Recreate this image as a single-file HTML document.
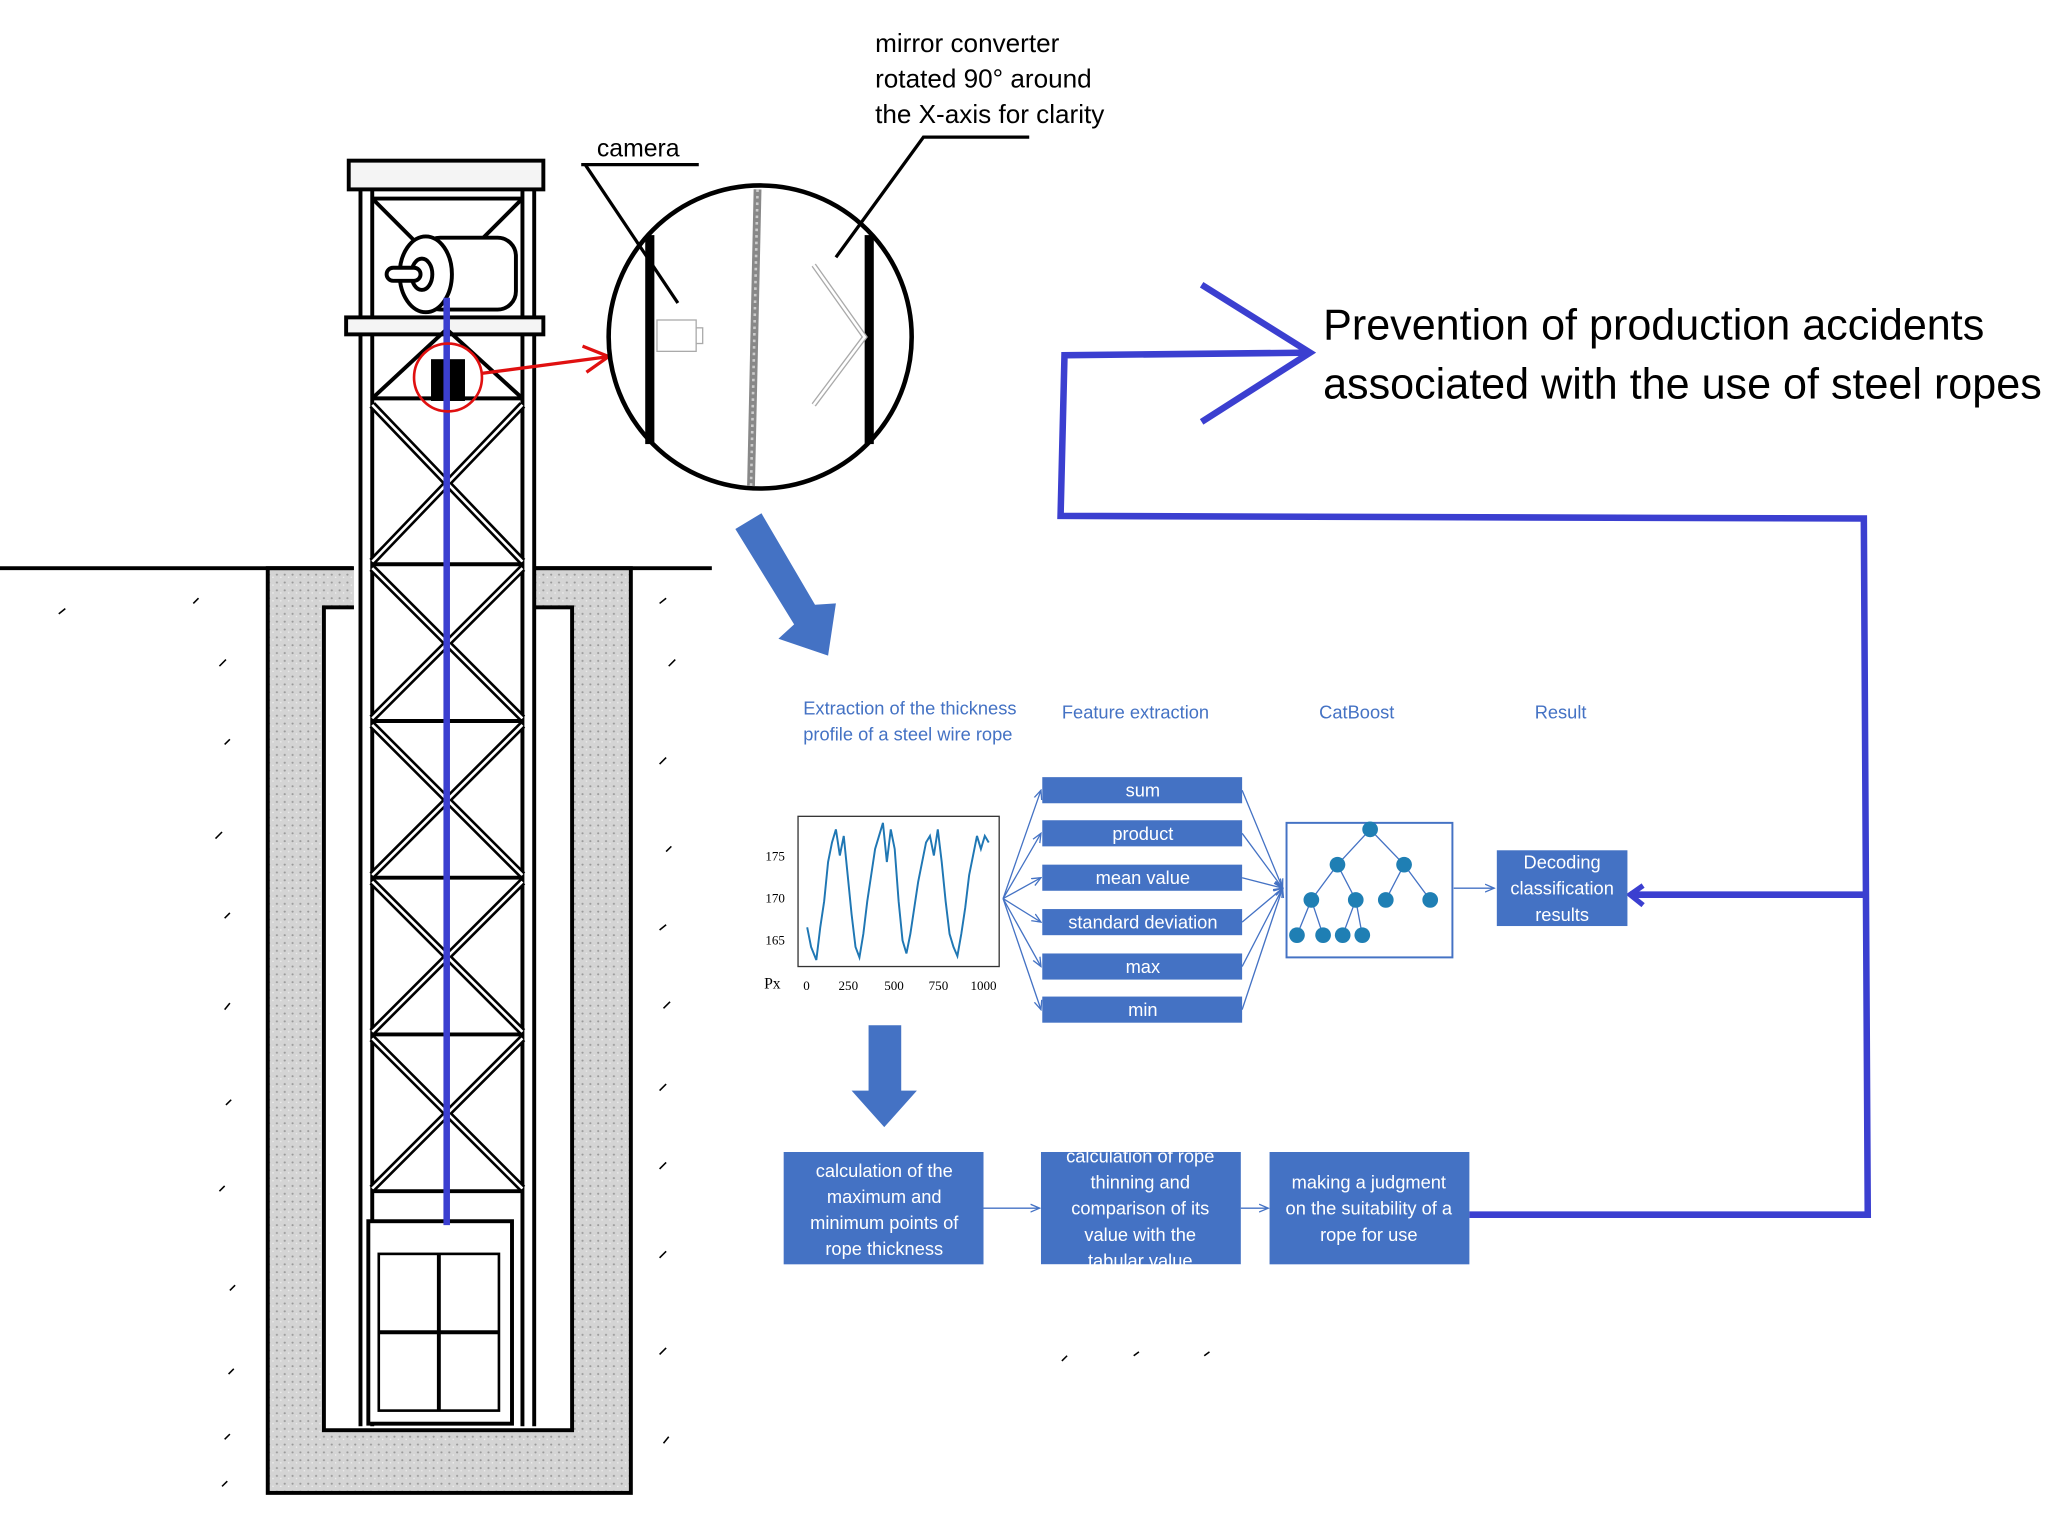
<!DOCTYPE html>
<html><head><meta charset="utf-8"><style>html,body{margin:0;padding:0;background:#fff}svg{display:block}</style></head>
<body>
<svg width="2048" height="1536" viewBox="0 0 1568 1176" preserveAspectRatio="none" xmlns="http://www.w3.org/2000/svg" font-family="Liberation Sans, sans-serif">
<defs>
<pattern id="conc" width="6" height="6" patternUnits="userSpaceOnUse"><rect width="6" height="6" fill="#d4d4d4"/><circle cx="2" cy="2" r="0.8" fill="#999"/><circle cx="5" cy="4" r="0.6" fill="#eee"/></pattern>
<marker id="ah" markerWidth="8" markerHeight="8" refX="7" refY="4" orient="auto"><path d="M0,1 L7,4 L0,7" fill="none" stroke="#4472c4" stroke-width="1"/></marker>
</defs>
<!-- shaft -->
<rect x="205" y="435" width="278" height="708" fill="url(#conc)" stroke="#000" stroke-width="3"/>
<rect x="248" y="465" width="190" height="630" fill="#fff" stroke="#000" stroke-width="3"/>
<rect x="271" y="430" width="139" height="40" fill="#fff"/>
<!-- ground -->
<line x1="0" y1="435" x2="270" y2="435" stroke="#000" stroke-width="3"/>
<line x1="410" y1="435" x2="545" y2="435" stroke="#000" stroke-width="3"/>
<g stroke="#000" stroke-width="1.2">
<line x1="45" y1="470" x2="50" y2="466"/><line x1="148" y1="462" x2="152" y2="458"/><line x1="168" y1="510" x2="173" y2="505"/><line x1="172" y1="570" x2="176" y2="566"/><line x1="165" y1="642" x2="170" y2="637"/><line x1="172" y1="703" x2="176" y2="699"/><line x1="172" y1="773" x2="176" y2="768"/><line x1="173" y1="846" x2="177" y2="842"/><line x1="168" y1="912" x2="172" y2="908"/><line x1="176" y1="988" x2="180" y2="984"/><line x1="175" y1="1052" x2="179" y2="1048"/><line x1="172" y1="1102" x2="176" y2="1098"/><line x1="170" y1="1138" x2="174" y2="1134"/>
<line x1="505" y1="462" x2="510" y2="458"/><line x1="512" y1="510" x2="517" y2="505"/><line x1="505" y1="585" x2="510" y2="580"/><line x1="510" y1="652" x2="514" y2="648"/><line x1="505" y1="712" x2="510" y2="708"/><line x1="508" y1="772" x2="513" y2="767"/><line x1="505" y1="835" x2="510" y2="830"/><line x1="505" y1="895" x2="510" y2="890"/><line x1="505" y1="963" x2="510" y2="958"/><line x1="505" y1="1037" x2="510" y2="1032"/><line x1="508" y1="1105" x2="512" y2="1100"/>
<line x1="813" y1="1042" x2="817" y2="1038"/><line x1="868" y1="1038" x2="872" y2="1035"/><line x1="922" y1="1038" x2="926" y2="1035"/>
</g>
<!-- tower -->
<g stroke="#000" fill="none" stroke-width="3">
<rect x="267" y="123" width="149" height="22" fill="#f4f4f4"/>
<line x1="276" y1="145" x2="276" y2="1092"/><line x1="285" y1="145" x2="285" y2="1092"/>
<line x1="400" y1="145" x2="400" y2="1092"/><line x1="409" y1="145" x2="409" y2="1092"/>
<line x1="285" y1="152" x2="400" y2="152"/>
<line x1="285" y1="152" x2="318" y2="185"/><line x1="400" y1="152" x2="370" y2="182"/>
<rect x="265" y="243" width="151" height="13" fill="#f4f4f4"/>
<line x1="285" y1="305" x2="342" y2="252"/><line x1="400" y1="305" x2="342" y2="252"/>
<line x1="285" y1="305" x2="400" y2="305"/>
</g>
<g stroke="#000" stroke-width="6" fill="none">
<path d="M285,310 L400,430 M400,310 L285,430 M285,435 L400,550 M400,435 L285,550 M285,555 L400,670 M400,555 L285,670 M285,675 L400,790 M400,675 L285,790 M285,795 L400,910 M400,795 L285,910"/>
</g>
<g stroke="#fff" stroke-width="2" fill="none">
<path d="M285,310 L400,430 M400,310 L285,430 M285,435 L400,550 M400,435 L285,550 M285,555 L400,670 M400,555 L285,670 M285,675 L400,790 M400,675 L285,790 M285,795 L400,910 M400,795 L285,910"/>
</g>
<g stroke="#000" stroke-width="3" fill="none">
<line x1="285" y1="432" x2="400" y2="432"/><line x1="285" y1="552" x2="400" y2="552"/><line x1="285" y1="672" x2="400" y2="672"/><line x1="285" y1="792" x2="400" y2="792"/><line x1="285" y1="912" x2="400" y2="912"/>
</g>
<!-- motor -->
<g stroke="#000" stroke-width="3" fill="#fff">
<rect x="323" y="182" width="72" height="55" rx="14"/>
<ellipse cx="326" cy="210" rx="20" ry="29"/>
<ellipse cx="323" cy="210" rx="8" ry="12"/>
<rect x="296" y="205" width="26" height="10" rx="5"/>
</g>
<rect x="330" y="275" width="26" height="32" fill="#000"/>
<!-- cabin -->
<g stroke="#000" stroke-width="3" fill="#fff">
<rect x="282" y="935" width="110" height="155"/>
<rect x="290" y="960" width="92" height="120" fill="none" stroke-width="2"/>
<line x1="290" y1="1020" x2="382" y2="1020"/><line x1="336" y1="960" x2="336" y2="1080"/>
</g>
<line x1="342" y1="228" x2="342" y2="938" stroke="#3b3fd0" stroke-width="5"/>
<circle cx="343" cy="289" r="26" fill="none" stroke="#e01010" stroke-width="2"/>
<path d="M368,286 L466,273 M446,265 L466,273 L449,285" fill="none" stroke="#e01010" stroke-width="2.5"/>
<!-- big circle -->
<circle cx="582" cy="258" r="116" fill="#fff" stroke="#000" stroke-width="3.5"/>
<rect x="494" y="180" width="7" height="160" fill="#000"/>
<rect x="662" y="180" width="7" height="160" fill="#000"/>
<line x1="580" y1="145" x2="575" y2="372" stroke="#888" stroke-width="6"/>
<line x1="580" y1="145" x2="575" y2="372" stroke="#ccc" stroke-width="2" stroke-dasharray="2 3"/>
<rect x="503" y="245" width="30" height="24" fill="#fff" stroke="#aaa"/>
<rect x="533" y="251" width="5" height="12" fill="#fff" stroke="#aaa"/>
<path d="M623,203 L662,258 L623,310" fill="none" stroke="#aaa" stroke-width="4"/>
<path d="M623,203 L662,258 L623,310" fill="none" stroke="#fff" stroke-width="2"/>
<!-- labels -->
<text x="457" y="120" font-size="19">camera</text>
<path d="M445,126 L535,126 M448,126 L519,232" stroke="#000" stroke-width="2.5" fill="none"/>
<text x="670" y="40" font-size="20">mirror converter</text>
<text x="670" y="67" font-size="20">rotated 90° around</text>
<text x="670" y="94" font-size="20">the X-axis for clarity</text>
<path d="M788,105 L707,105 L640,197" stroke="#000" stroke-width="2.5" fill="none"/>
<!-- blue diagonal arrow -->
<polygon points="563,405 583,393 624,463 640,462 634,502 596,489 608,478" fill="#4472c4"/>
<!-- prevention -->
<text x="1013" y="260" font-size="33">Prevention of production accidents</text>
<text x="1013" y="305" font-size="33">associated with the use of steel ropes</text>
<g stroke="#3b3fd0" stroke-width="5" fill="none">
<path d="M920,218 L1003,270 L920,323"/>
<path d="M1003,270 L815,272 L812,395 L1427,397 L1430,930 L1125,930"/>
<path d="M1428,685 L1248,685"/>
</g>
<path d="M1258,678 L1248,685 L1258,693" fill="none" stroke="#3b3fd0" stroke-width="4"/>
<!-- flow labels -->
<g fill="#4472c4" font-size="14">
<text x="615" y="547">Extraction of the thickness</text>
<text x="615" y="567">profile of a steel wire rope</text>
<text x="813" y="550">Feature extraction</text>
<text x="1010" y="550">CatBoost</text>
<text x="1175" y="550">Result</text>
</g>
<!-- chart -->
<rect x="611" y="625" width="154" height="115" fill="#fff" stroke="#333"/>
<g font-size="10" font-family="Liberation Serif, serif">
<text x="586" y="659">175</text><text x="586" y="691">170</text><text x="586" y="723">165</text>
<text x="615" y="758">0</text><text x="642" y="758">250</text><text x="677" y="758">500</text><text x="711" y="758">750</text><text x="743" y="758">1000</text>
<text x="585" y="757" font-size="12">Px</text>
</g>
<polyline fill="none" stroke="#1f77b4" stroke-width="1.5" points="618,710 621,725 625,735 628,710 631,690 634,660 637,645 640,635 643,655 646,640 649,670 652,700 655,725 658,733 661,715 664,690 667,670 670,650 673,640 676,630 679,660 682,635 685,650 688,690 691,720 694,730 697,715 700,695 703,675 706,660 709,645 712,640 715,655 718,635 721,660 724,690 727,715 730,725 733,732 736,715 739,695 742,670 745,655 748,640 751,650 754,640 757,645"/>
<!-- feature boxes -->
<g fill="#4472c4"><rect x="798" y="595" width="153" height="20"/><rect x="798" y="628" width="153" height="20"/><rect x="798" y="662" width="153" height="20"/><rect x="798" y="696" width="153" height="20"/><rect x="798" y="730" width="153" height="20"/><rect x="798" y="763" width="153" height="20"/></g>
<g fill="#fff" font-size="14" text-anchor="middle">
<text x="875" y="610">sum</text><text x="875" y="643">product</text><text x="875" y="677">mean value</text><text x="875" y="711">standard deviation</text><text x="875" y="745">max</text><text x="875" y="778">min</text>
</g>
<g stroke="#4472c4" stroke-width="1" fill="none" marker-end="url(#ah)">
<line x1="768" y1="688" x2="797" y2="605"/><line x1="768" y1="688" x2="797" y2="638"/><line x1="768" y1="688" x2="797" y2="672"/><line x1="768" y1="688" x2="797" y2="706"/><line x1="768" y1="688" x2="797" y2="740"/><line x1="768" y1="688" x2="797" y2="773"/>
<line x1="951" y1="605" x2="982" y2="680"/><line x1="951" y1="638" x2="982" y2="680"/><line x1="951" y1="672" x2="982" y2="680"/><line x1="951" y1="706" x2="982" y2="680"/><line x1="951" y1="740" x2="982" y2="680"/><line x1="951" y1="773" x2="982" y2="680"/>
<line x1="1113" y1="680" x2="1144" y2="680"/>
<line x1="753" y1="925" x2="796" y2="925"/><line x1="950" y1="925" x2="971" y2="925"/>
</g>
<rect x="985" y="630" width="127" height="103" fill="#fff" stroke="#4472c4" stroke-width="1.5"/>
<g stroke="#4472c4" stroke-width="1"><path d="M1049,635 L1024,662 M1049,635 L1075,662 M1024,662 L1004,689 M1024,662 L1038,689 M1075,662 L1061,689 M1075,662 L1095,689 M1004,689 L993,716 M1004,689 L1013,716 M1038,689 L1028,716 M1038,689 L1043,716"/></g>
<g fill="#1f7fb4"><circle cx="1049" cy="635" r="6"/><circle cx="1024" cy="662" r="6"/><circle cx="1075" cy="662" r="6"/><circle cx="1004" cy="689" r="6"/><circle cx="1038" cy="689" r="6"/><circle cx="1061" cy="689" r="6"/><circle cx="1095" cy="689" r="6"/><circle cx="993" cy="716" r="6"/><circle cx="1013" cy="716" r="6"/><circle cx="1028" cy="716" r="6"/><circle cx="1043" cy="716" r="6"/></g>
<rect x="1146" y="651" width="100" height="58" fill="#4472c4"/>
<g fill="#fff" font-size="14" text-anchor="middle"><text x="1196" y="665">Decoding</text><text x="1196" y="685">classification</text><text x="1196" y="705">results</text></g>
<!-- down arrow -->
<polygon points="665,785 690,785 690,835 702,835 677,863 652,835 665,835" fill="#4472c4"/>
<!-- bottom boxes -->
<g fill="#4472c4"><rect x="600" y="882" width="153" height="86"/><rect x="797" y="882" width="153" height="86"/><rect x="972" y="882" width="153" height="86"/></g>
<g fill="#fff" font-size="14" text-anchor="middle">
<text x="677" y="901">calculation of the</text><text x="677" y="921">maximum and</text><text x="677" y="941">minimum points of</text><text x="677" y="961">rope thickness</text>
<text x="873" y="890">calculation of rope</text><text x="873" y="910">thinning and</text><text x="873" y="930">comparison of its</text><text x="873" y="950">value with the</text><text x="873" y="970">tabular value</text>
<text x="1048" y="910">making a judgment</text><text x="1048" y="930">on the suitability of a</text><text x="1048" y="950">rope for use</text>
</g>
<rect x="797" y="968" width="153" height="10" fill="#fff"/>
<rect x="797" y="872" width="153" height="10" fill="#fff"/>
</svg>
</body></html>
